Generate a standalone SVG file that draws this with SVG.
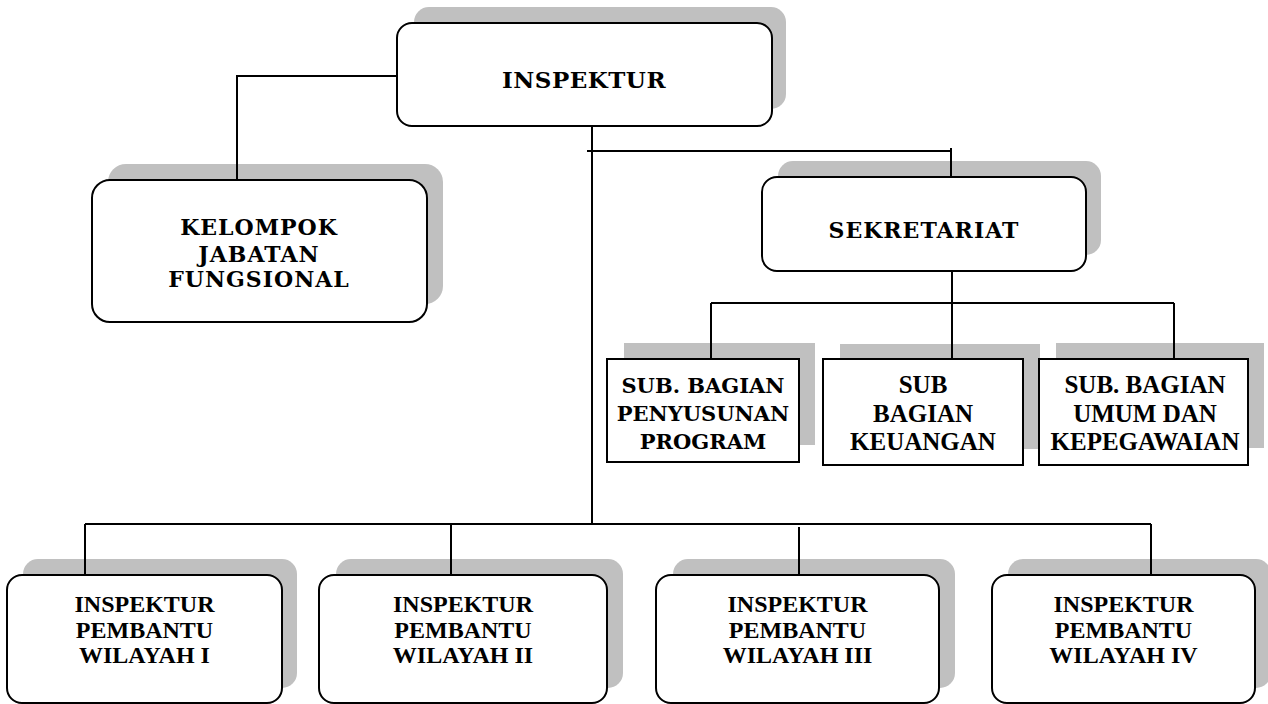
<svg xmlns="http://www.w3.org/2000/svg" width="1268" height="704" viewBox="0 0 1268 704">
<style>
.sh{fill:#c0c0c0;stroke:none}
.bx{fill:#ffffff;stroke:#000;stroke-width:2}
.bk{font-family:"DejaVu Serif","Liberation Serif",serif;font-weight:bold;fill:#000;text-anchor:middle}
.tm{font-family:"Liberation Serif","Times New Roman",serif;font-weight:bold;fill:#000;text-anchor:middle}
.cn{fill:none;stroke:#000;stroke-width:2}
</style>
<rect width="1268" height="704" fill="#fff"/>
<g id="inspektur">
<rect class="sh" x="414" y="7" width="372" height="102" rx="15"/>
<rect class="bx" x="397" y="23" width="375" height="103" rx="15"/>
<text class="bk" x="584" y="88" font-size="23" letter-spacing="0.5">INSPEKTUR</text>
</g>
<g id="kelompok">
<rect class="sh" x="108" y="164" width="335" height="140" rx="18"/>
<rect class="bx" x="92" y="180" width="335" height="142" rx="18"/>
<text class="bk" font-size="22" letter-spacing="1"><tspan x="259" y="235">KELOMPOK</tspan><tspan x="259" y="262">JABATAN</tspan><tspan x="259" y="287">FUNGSIONAL</tspan></text>
</g>
<g id="sekretariat">
<rect class="sh" x="778" y="161" width="323" height="94" rx="15"/>
<rect class="bx" x="762" y="177" width="324" height="94" rx="15"/>
<text class="bk" x="924" y="238" font-size="22" letter-spacing="1">SEKRETARIAT</text>
</g>
<g id="sub-penyusunan">
<rect class="sh" x="624" y="343" width="191" height="102"/>
<rect class="bx" x="607" y="359" width="192" height="103"/>
<text class="bk" font-size="21"><tspan x="703" y="393">SUB. BAGIAN</tspan><tspan x="703" y="421">PENYUSUNAN</tspan><tspan x="703" y="449">PROGRAM</tspan></text>
</g>
<g id="sub-keuangan">
<rect class="sh" x="840" y="344" width="200" height="105"/>
<rect class="bx" x="823" y="359" width="200" height="106"/>
<text class="tm" font-size="25"><tspan x="923" y="393">SUB</tspan><tspan x="923" y="422">BAGIAN</tspan><tspan x="923" y="450">KEUANGAN</tspan></text>
</g>
<g id="sub-umum">
<rect class="sh" x="1056" y="343" width="208" height="105"/>
<rect class="bx" x="1039" y="359" width="209" height="106"/>
<text class="tm" font-size="25"><tspan x="1145" y="393">SUB. BAGIAN</tspan><tspan x="1145" y="422">UMUM DAN</tspan><tspan x="1145" y="450">KEPEGAWAIAN</tspan></text>
</g>
<g id="wilayah-1">
<rect class="sh" x="23" y="559" width="274" height="129" rx="15"/>
<rect class="bx" x="7" y="575" width="275" height="128" rx="15"/>
<text class="tm" font-size="24"><tspan x="144.5" y="612">INSPEKTUR</tspan><tspan x="144.5" y="638">PEMBANTU</tspan><tspan x="144.5" y="663">WILAYAH I</tspan></text>
</g>
<g id="wilayah-2">
<rect class="sh" x="336" y="559" width="287" height="129" rx="15"/>
<rect class="bx" x="319" y="575" width="288" height="128" rx="15"/>
<text class="tm" font-size="24"><tspan x="463" y="612">INSPEKTUR</tspan><tspan x="463" y="638">PEMBANTU</tspan><tspan x="463" y="663">WILAYAH II</tspan></text>
</g>
<g id="wilayah-3">
<rect class="sh" x="673" y="559" width="282" height="129" rx="15"/>
<rect class="bx" x="656" y="575" width="283" height="128" rx="15"/>
<text class="tm" font-size="24"><tspan x="797.5" y="612">INSPEKTUR</tspan><tspan x="797.5" y="638">PEMBANTU</tspan><tspan x="797.5" y="663">WILAYAH III</tspan></text>
</g>
<g id="wilayah-4">
<rect class="sh" x="1008" y="559" width="263" height="129" rx="15"/>
<rect class="bx" x="992" y="575" width="263" height="128" rx="15"/>
<text class="tm" font-size="24"><tspan x="1123.5" y="612">INSPEKTUR</tspan><tspan x="1123.5" y="638">PEMBANTU</tspan><tspan x="1123.5" y="663">WILAYAH IV</tspan></text>
</g>
<g id="connectors">
<path class="cn" d="M397,76 H237 V180"/>
<path class="cn" d="M592,126 V524"/>
<path class="cn" d="M587,151 H951"/>
<path class="cn" d="M951,148 V177"/>
<path class="cn" d="M952,271 V359"/>
<path class="cn" d="M711,303 H1174"/>
<path class="cn" d="M711,303 V359"/>
<path class="cn" d="M1174,303 V359"/>
<path class="cn" d="M85,524 H1151"/>
<path class="cn" d="M85,524 V575"/>
<path class="cn" d="M451,524 V575"/>
<path class="cn" d="M799,527 V575"/>
<path class="cn" d="M1151,524 V575"/>
</g>
</svg>
